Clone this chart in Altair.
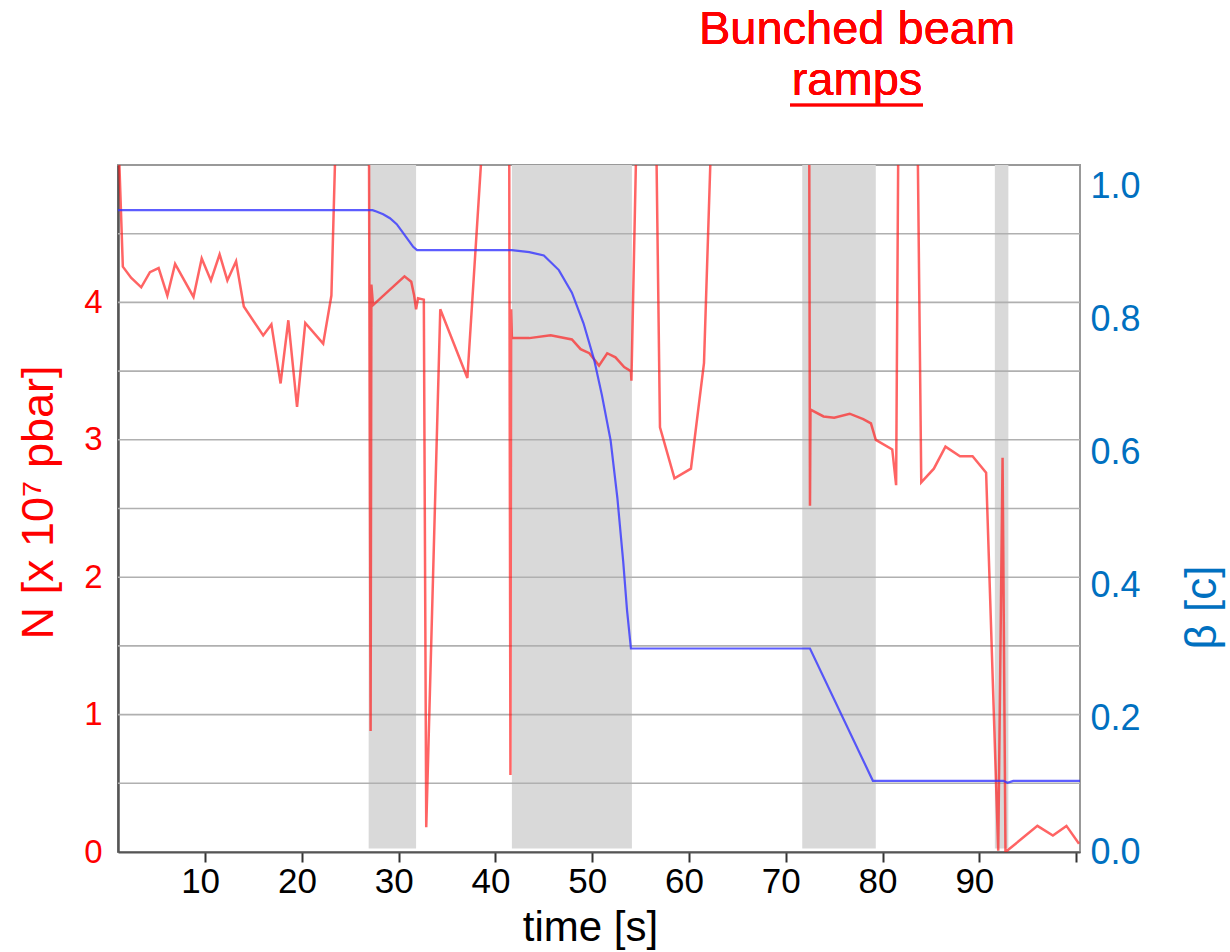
import altair as alt
import pandas as pd

# ---- data ----
t_N = [1.0, 1.5, 2.35, 3.4, 4.3, 5.2, 6.1, 6.9, 8.8, 9.65, 10.6, 11.5, 12.3, 13.2, 14.0,
       16.0, 16.85, 17.8, 18.6, 19.5, 20.35, 22.2, 23.05, 23.8, 26.9, 27.1, 27.18, 27.35,
       28.9, 30.6, 31.3, 31.6, 31.8, 32.0, 32.6, 32.85, 34.3, 37.1, 39.4, 41.4, 41.55,
       41.62, 41.7, 43.5, 45.7, 47.9, 48.8, 49.7, 50.7, 51.55, 52.4, 53.3, 54.0, 54.05,
       54.8, 56.47, 57.0, 58.5, 60.2, 61.55, 62.65, 72.4, 72.5, 72.55, 73.9, 75.0, 76.6,
       78.0, 78.8, 79.3, 81.0, 81.4, 81.7, 83.5, 84.0, 85.3, 86.5, 88.0, 89.3, 90.7,
       91.95, 92.4, 92.7, 96.0, 97.6, 99.0, 100.3]
N_vals = [5.3, 4.26, 4.18, 4.11, 4.22, 4.25, 4.05, 4.28, 4.04, 4.32, 4.16, 4.35, 4.16, 4.30, 3.97,
          3.76, 3.84, 3.41, 3.87, 3.24, 3.85, 3.70, 4.05, 6.0, 6.0, 0.88, 4.13, 3.98,
          4.08, 4.19, 4.15, 4.05, 3.95, 4.03, 4.02, 0.18, 3.95, 3.45, 6.0, 6.0, 0.56,
          3.95, 3.74, 3.74, 3.76, 3.73, 3.66, 3.63, 3.54, 3.63, 3.60, 3.53, 3.50, 3.43,
          6.0, 6.0, 3.09, 2.72, 2.79, 3.56, 6.0, 6.0, 2.52, 3.22, 3.17, 3.16, 3.19,
          3.15, 3.12, 3.00, 2.93, 2.67, 6.0, 6.0, 2.69, 2.79, 2.95, 2.88, 2.88, 2.76,
          0.01, 2.87, 0.0, 0.19, 0.12, 0.19, 0.06]

t_beta = [1.0, 27.3, 27.7, 28.4, 29.1, 29.8, 30.4, 31.0, 31.5, 31.9, 41.7, 43.5, 45.0,
          46.55, 47.9, 49.1, 50.2, 51.0, 51.9, 52.6, 53.2, 53.6, 54.0, 72.5, 79.0,
          92.5, 92.9, 93.5, 100.4]
beta_vals = [0.965, 0.965, 0.963, 0.959, 0.953, 0.944, 0.932, 0.920, 0.910, 0.905, 0.905,
             0.902, 0.897, 0.875, 0.841, 0.795, 0.740, 0.687, 0.619, 0.532, 0.437, 0.363,
             0.306, 0.306, 0.107, 0.107, 0.104, 0.107, 0.107]

band_start = [26.9, 41.7, 71.7, 91.6]
band_end = [31.8, 54.1, 79.3, 93.0]

grid_N = [0.5, 1.0, 1.5, 2.0, 2.5, 3.0, 3.5, 4.0, 4.5]
x_ticks = [10, 20, 30, 40, 50, 60, 70, 80, 90, 100]
N_ticks = [0, 1, 2, 3, 4]
beta_ticks = [0.0, 0.2, 0.4, 0.6, 0.8, 1.0]

FONT = "Liberation Sans"

dfN = pd.DataFrame({"t": t_N, "N": N_vals})
dfB = pd.DataFrame({"t": t_beta, "beta": beta_vals})
dfBand = pd.DataFrame({"s": band_start, "e": band_end})
dfGrid = pd.DataFrame({"g": grid_N})

xs = alt.Scale(domain=[1, 100.4], nice=False, zero=False)
yN = alt.Scale(domain=[0, 5], nice=False, zero=False)
yB = alt.Scale(domain=[0, 1.033], nice=False, zero=False)

x_axis = alt.Axis(values=x_ticks, labelExpr="datum.value == 100 ? '' : datum.label",
                  grid=False, labelFont=FONT, labelFontSize=35, labelColor="black",
                  labelPadding=2, labelOffset=-5, tickSize=10, tickColor="#333333", tickWidth=2,
                  domainColor="#555555", domainWidth=2,
                  title="time [s]", titleFont=FONT, titleFontSize=42, titleFontWeight="normal",
                  titleColor="black", titleX=472, titleY=88, titleBaseline="alphabetic",
                  titleAlign="center")

yN_axis = alt.Axis(values=N_ticks, grid=False, ticks=False, labelFont=FONT,
                   labelFontSize=33, labelColor="red", labelPadding=16,
                   domainColor="#555555", domainWidth=2.5,
                   title="N [x 10⁷ pbar]", titleFont=FONT, titleFontSize=45,
                   titleFontWeight="normal", titleColor="red", titleAngle=270,
                   titleX=-80, titleY=337, titleAlign="center", titleBaseline="middle")

yB_axis = alt.Axis(orient="right", values=beta_ticks, format=".1f", grid=False,
                   ticks=False, domain=False, labelFont=FONT, labelFontSize=36,
                   labelColor="#0070c0", labelPadding=10,
                   title="β [c]", titleFont=FONT, titleFontSize=44,
                   titleFontWeight="normal", titleColor="#0070c0", titleAngle=270,
                   titleX=122, titleY=442, titleAlign="center", titleBaseline="middle")

bands = alt.Chart(dfBand).mark_rect(color="#d9d9d9").encode(
    x=alt.X("s:Q", scale=xs, axis=x_axis),
    x2="e:Q",
    y=alt.Y(datum=5.0, scale=yN, axis=yN_axis),
    y2=alt.datum(0.025),
)

grid = alt.Chart(dfGrid).mark_rule(color="#b0b0b0", strokeWidth=1.6).encode(
    y=alt.Y("g:Q", scale=yN, axis=None)
)

red = alt.Chart(dfN).mark_line(color="#ff1a1a", opacity=0.68, strokeWidth=2.5, clip=True).encode(
    x=alt.X("t:Q", scale=xs, axis=x_axis),
    y=alt.Y("N:Q", scale=yN, axis=None),
)

blue = alt.Chart(dfB).mark_line(color="#3535ff", opacity=0.8, strokeWidth=2.2).encode(
    x=alt.X("t:Q", scale=xs, axis=x_axis),
    y=alt.Y("beta:Q", scale=yB, axis=yB_axis),
)

title1 = alt.Chart(dfBand).mark_text(text="Bunched beam", font=FONT, fontSize=47,
                                      color="red", align="center",
                                      baseline="alphabetic").encode(
    x=alt.value(739), y=alt.value(-121))
title2 = alt.Chart(dfBand).mark_text(text="ramps", font=FONT, fontSize=47,
                                      color="red", align="center",
                                      baseline="alphabetic").encode(
    x=alt.value(739), y=alt.value(-70))
underline = alt.Chart(dfBand).mark_rule(color="red", strokeWidth=2.5).encode(
    x=alt.value(672), x2=alt.value(805), y=alt.value(-60))

chart = alt.layer(bands, grid, red, blue, title1, title2, underline).resolve_scale(
    y="independent"
).properties(
    width=962, height=687,
    autosize=alt.AutoSizeParams(type="none"),
    padding={"left": 118, "top": 165, "right": 150, "bottom": 100},
    background="white",
).configure_view(stroke="#999999", strokeWidth=2)

chart.save("out.html", embed_options={"renderer": "svg", "actions": False})
